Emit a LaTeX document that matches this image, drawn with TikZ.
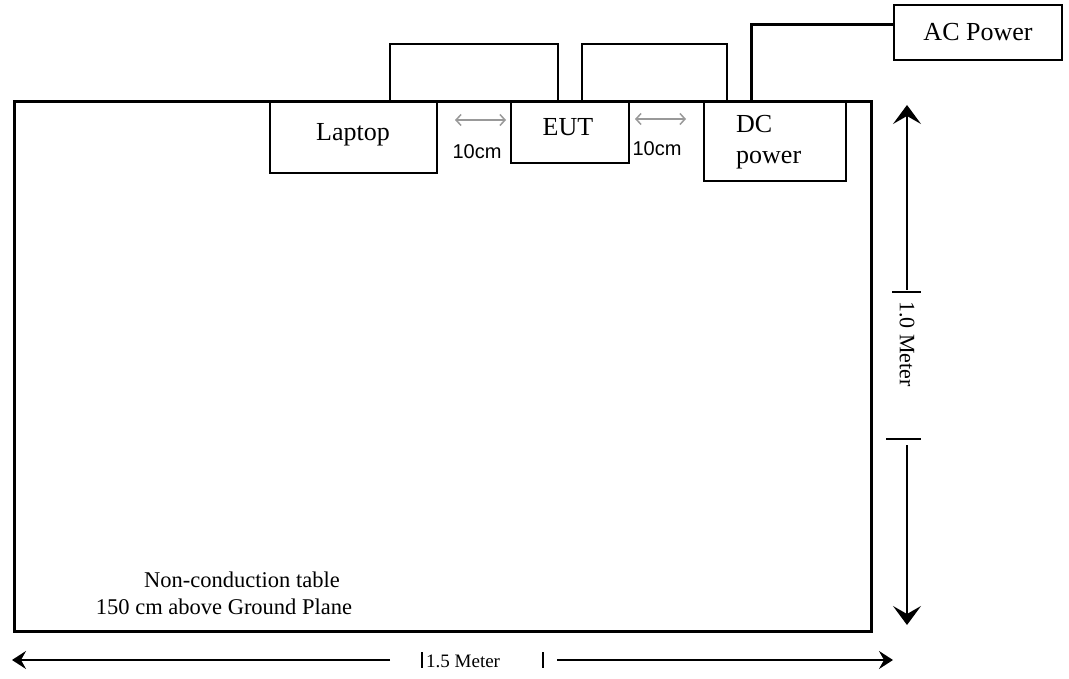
\documentclass[tikz,border=0pt]{standalone}
\usepackage{fontspec}
\setmainfont{Liberation Serif}
\newfontfamily\arialf{Liberation Sans}
\usetikzlibrary{arrows.meta}
\begin{document}
\begin{tikzpicture}[x=1pt,y=-1pt,
  tablebox/.style={draw, line width=3pt, inner sep=0pt, outer sep=0pt},
  unitbox/.style={draw, line width=1.5pt, inner sep=0pt, outer sep=0pt, fill=white},
  cable/.style={line width=1.5pt},
  acline/.style={line width=3pt},
  lbl/.style={font=\fontsize{26}{30}\selectfont, inner sep=0pt, anchor=base},
  cmlbl/.style={font=\arialf\fontsize{20}{24}\selectfont, inner sep=0pt, anchor=base},
  tbllbl/.style={font=\fontsize{22.5}{26}\selectfont, inner sep=0pt, anchor=base},
  dimlbl/.style={font=\fontsize{22}{26}\selectfont, inner sep=0pt},
  gapdim/.style={line width=1.5pt, draw=gray!80, {Straight Barb[length=5pt,width=11pt]}-{Straight Barb[length=5pt,width=11pt]}},
  vdim/.style={line width=1.5pt, -{Stealth[length=19pt,width=28pt,inset=8pt]}},
  hdim/.style={line width=2pt, -{Stealth[length=14pt,width=18pt,inset=5pt]}},
  tick/.style={line width=1.5pt}]
\useasboundingbox (0,0) rectangle (1069,679);
% table
\node[tablebox, minimum width=857pt, minimum height=530pt] (table) at (443,366.5) {};
% units
\node[unitbox, minimum width=167pt, minimum height=71pt] (laptop) at (353.5,137.5) {};
\node[unitbox, minimum width=118pt, minimum height=61pt] (eut) at (570,132.5) {};
\node[unitbox, minimum width=142pt, minimum height=79pt] (dc) at (775,141.5) {};
\node[unitbox, minimum width=168pt, minimum height=55pt] (ac) at (978,32.5) {};
\draw[line width=3pt] (table.north west) -- (table.north east);
% labels
\node[lbl] (laptoptxt) at (353,141) {Laptop};
\node[lbl] (euttxt) at (568,136) {EUT};
\node[lbl, anchor=base west] (dctxt1) at (736,133) {DC};
\node[lbl, anchor=base west] (dctxt2) at (736,164) {power};
\node[lbl] (actxt) at (978,41) {AC Power};
% cables
\draw[cable] ([xshift=36.5pt]laptop.north) -- ++(0,-58) -| ([xshift=-12pt]eut.north);
\draw[cable] ([xshift=12pt]eut.north) -- ++(0,-58) -| ([xshift=-48pt]dc.north);
\draw[acline] ([xshift=-24pt]dc.north) |- ([yshift=8pt]ac.west);
% 10 cm gaps
\coordinate (g1a) at (455,120);
\coordinate (g1b) at (506,120);
\coordinate (g2a) at (635,119);
\coordinate (g2b) at (686,119);
\draw[gapdim] (g1a) -- (g1b);
\draw[gapdim] (g2a) -- (g2b);
\node[cmlbl] (cm1) at (477,159) {10cm};
\node[cmlbl] (cm2) at (657,156) {10cm};
% table text
\node[tbllbl] (t1) at (242,587) {Non-conduction table};
\node[tbllbl] (t2) at (224,614) {150 cm above Ground Plane};
% vertical dimension
\coordinate (vtop) at (907,105);
\coordinate (vup) at (907,290);
\coordinate (vlow) at (907,445);
\coordinate (vbot) at (907,625);
\draw[vdim] (vup) -- (vtop);
\draw[vdim] (vlow) -- (vbot);
\draw[tick] (892,292) -- (921,292);
\draw[tick] (886,439) -- (921,439);
\node[dimlbl, rotate=-90] (vtxt) at (907,344) {1.0 Meter};
% horizontal dimension
\coordinate (hleft) at (12,660);
\coordinate (hl) at (390,660);
\coordinate (hr) at (557,660);
\coordinate (hright) at (893,660);
\draw[hdim] (hl) -- (hleft);
\draw[hdim] (hr) -- (hright);
\draw[tick] (422,652) -- (422,668);
\draw[tick] (543,652) -- (543,668);
\node[dimlbl, anchor=base west, font=\fontsize{19}{22}\selectfont] (htxt) at (426,667) {1.5 Meter};
\end{tikzpicture}
\end{document}
